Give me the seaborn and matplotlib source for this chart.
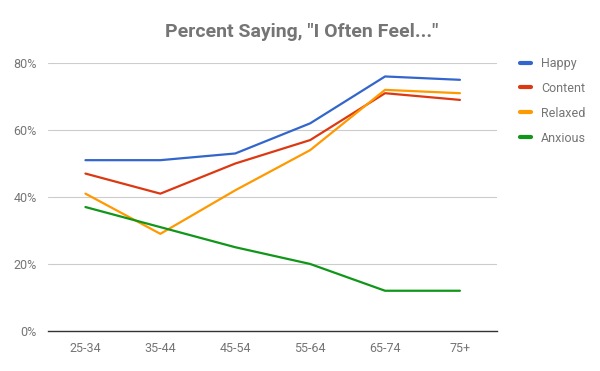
import numpy as np
import pandas as pd
import matplotlib
matplotlib.use("Agg")
import matplotlib.pyplot as plt
import seaborn as sns

# Données
ages = ["25-34", "35-44", "45-54", "55-64", "65-74", "75+"]
happy = [51, 51, 53, 62, 76, 75]
content = [47, 41, 50, 57, 71, 69]
relaxed = [41, 29, 42, 54, 72, 71]
anxious = [37, 31, 25, 20, 12, 12]
series = ["Happy", "Content", "Relaxed", "Anxious"]
y_ticks = [0, 20, 40, 60, 80]

df = pd.DataFrame({
    "age": ages * 4,
    "value": happy + content + relaxed + anxious,
    "feel": [s for s in series for _ in ages],
})

palette = {"Happy": "#3366CC", "Content": "#DC3912",
           "Relaxed": "#FF9900", "Anxious": "#109618"}

sns.set_style("white")
plt.rcParams["font.family"] = ["Roboto", "DejaVu Sans"]

fig = plt.figure(figsize=(6, 3.71), dpi=100)
ax = fig.add_axes([0.08, 0.108, 0.749, 0.722])

sns.lineplot(data=df, x="age", y="value", hue="feel", palette=palette,
             hue_order=series, sort=False, linewidth=1.6, ax=ax, legend=False)

ax.set_xlim(-0.5, len(ages) - 0.5)
ax.set_ylim(0, 80)
ax.set_yticks(y_ticks)
ax.set_yticklabels([f"{v}%" for v in y_ticks])
ax.set_xlabel("")
ax.set_ylabel("")
ax.grid(axis="y", color="#CCCCCC", linewidth=0.8)
ax.set_axisbelow(True)
for s in ["top", "right", "left"]:
    ax.spines[s].set_visible(False)
ax.spines["bottom"].set_color("#333333")
ax.spines["bottom"].set_linewidth(1)
ax.tick_params(axis="both", length=0, labelsize=9, colors="#757575", pad=8)

handles = [plt.Line2D([], [], color=palette[s], linewidth=3) for s in series]
leg = fig.legend(handles, series, loc="upper left", bbox_to_anchor=(0.848, 0.877),
                 frameon=False, fontsize=9, handlelength=0.9, handletextpad=0.8,
                 labelspacing=0.95)
for t in leg.get_texts():
    t.set_color("#757575")

fig.text(0.502, 0.915, 'Percent Saying, "I Often Feel..."', ha="center", va="center",
         fontsize=14, fontweight="bold", color="#757575")

fig.savefig("out.png", dpi=100)
